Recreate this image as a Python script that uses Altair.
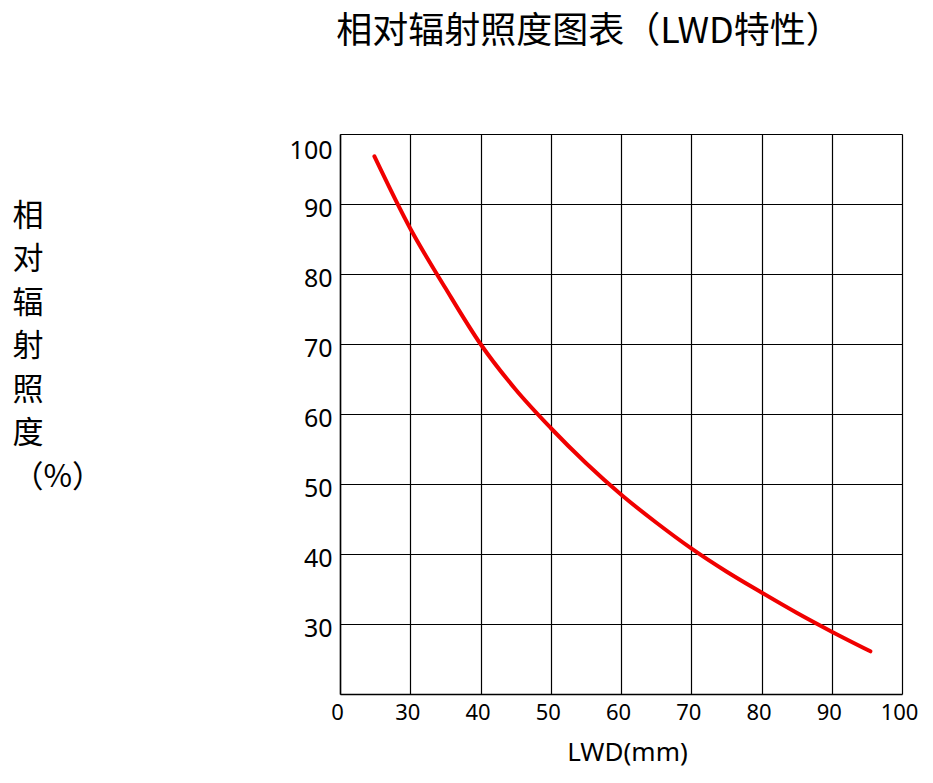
import altair as alt
import pandas as pd

# Curve (LWD in mm, relative irradiance in %)
lwd = [24.9, 30.0, 35.0, 40.0, 45.0, 50.0, 55.0, 60.0, 65.0, 70.0, 75.0, 80.0, 85.0, 90.0, 95.5]
irr = [96.8, 86.5, 78.0, 70.0, 63.5, 58.0, 53.0, 48.5, 44.5, 40.8, 37.5, 34.5, 31.6, 28.9, 26.1]

x_ticks = [20, 30, 40, 50, 60, 70, 80, 90, 100]
y_ticks = [30, 40, 50, 60, 70, 80, 90, 100]

title_text = "相对辐射照度图表（LWD特性）"
y_title = ["相", "对", "辐", "射", "照", "度", "（%）"]
x_title = "LWD(mm)"

df = pd.DataFrame({"lwd": lwd, "irr": irr})

chart = alt.Chart(df).mark_line(
    color="#f00000", strokeWidth=4, interpolate="monotone", strokeCap="round"
).encode(
    x=alt.X(
        "lwd:Q",
        scale=alt.Scale(domain=[20, 100], nice=False, zero=False),
        axis=alt.Axis(
            values=x_ticks,
            labelExpr="datum.value == 20 ? '0' : datum.label",
            grid=True,
            gridColor="#000000",
            gridWidth=1.2,
            gridOpacity=1,
            domain=True,
            domainColor="#000000",
            domainWidth=1.5,
            ticks=False,
            labelFlush=False,
            labelPadding=8,
            labelOffset=-3,
            labelFont="Noto Sans",
            labelFontSize=22,
            labelColor="#000000",
            title=x_title,
            titleFont="Noto Sans",
            titleFontSize=26,
            titleFontWeight="normal",
            titleColor="#000000",
            titleX=287,
            titleY=66,
            titleAlign="center",
            titleBaseline="alphabetic",
        ),
    ),
    y=alt.Y(
        "irr:Q",
        scale=alt.Scale(domain=[20, 100], nice=False, zero=False),
        axis=alt.Axis(
            values=y_ticks,
            grid=True,
            gridColor="#000000",
            gridWidth=1.2,
            gridOpacity=1,
            domain=True,
            domainColor="#000000",
            domainWidth=1.5,
            ticks=False,
            labelFlush=True,
            labelPadding=8,
            labelOffset=4,
            labelFont="Noto Sans",
            labelFontSize=25,
            labelColor="#000000",
            title=y_title,
            titleFont="Noto Sans CJK SC",
            titleFontSize=31,
            titleFontWeight="normal",
            titleColor="#000000",
            titleAngle=0,
            titleAlign="left",
            titleBaseline="top",
            titleLineHeight=43.5,
            titleX=-328,
            titleY=67,
        ),
    ),
).properties(
    width=562,
    height=560,
    title=alt.TitleParams(
        text=title_text,
        font="Noto Sans CJK SC",
        fontSize=36,
        fontWeight="normal",
        color="#000000",
        anchor="middle",
        dx=-32,
        offset=83,
    ),
    autosize=alt.AutoSizeParams(type="none"),
    padding={"left": 332, "top": 126, "right": 23, "bottom": 81},
).configure_view(
    stroke="#000000", strokeWidth=1.5
).configure(background="#ffffff")

chart.save("out.html", embed_options={"renderer": "svg", "actions": False})
